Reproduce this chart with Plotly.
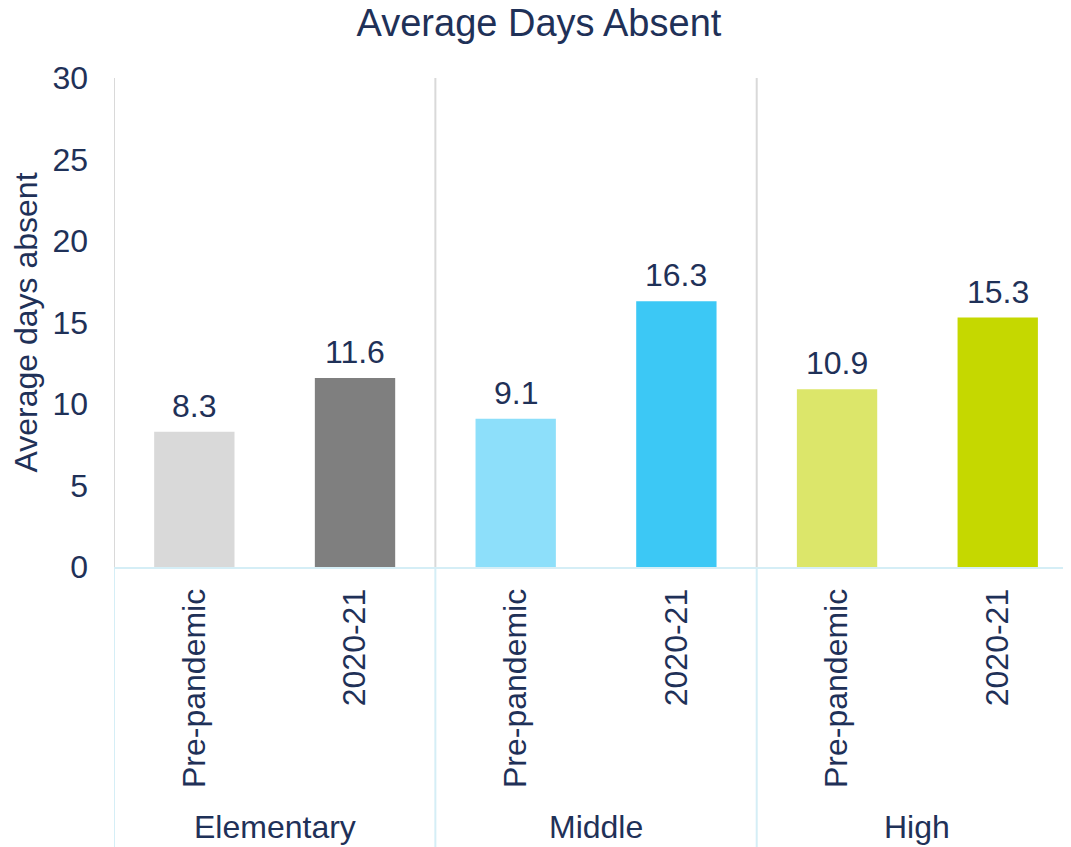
import plotly.graph_objects as go

groups = ["Elementary", "Middle", "High"]
periods = ["Pre-pandemic", "2020-21"]
values = [8.3, 11.6, 9.1, 16.3, 10.9, 15.3]
colors = ["#d9d9d9", "#7f7f7f", "#8ddffa", "#3cc8f5", "#dce66a", "#c5d800"]
y_ticks = [0, 5, 10, 15, 20, 25, 30]

TEXT = "#1f3158"
FONT = "Liberation Sans, Arial, sans-serif"

n = len(values)
xpos = list(range(n))
tick_text = [periods[i % 2] for i in range(n)]

fig = go.Figure()
fig.add_trace(go.Bar(
    x=xpos, y=values, width=0.5,
    marker=dict(color=colors, line=dict(width=0)),
    hoverinfo="skip",
))

shapes = []
for g in range(len(groups)):
    xb = g * 2 - 0.5
    shapes.append(dict(type="line", xref="x", yref="paper", x0=xb, x1=xb, y0=0, y1=1,
                       line=dict(color="#d9d9d9", width=2)))
    shapes.append(dict(type="line", xref="x", yref="paper", x0=xb, x1=xb, y0=0, y1=-0.6,
                       line=dict(color="#d5eef6", width=2)))

annotations = []
for g, name in enumerate(groups):
    annotations.append(dict(text=name, x=g * 2 + 0.5, xref="x", y=-0.532, yref="paper",
                            showarrow=False, xanchor="center", yanchor="middle",
                            font=dict(size=32, color=TEXT, family=FONT)))
for xi, v in zip(xpos, values):
    annotations.append(dict(text=f"{v:.1f}", x=xi, y=v, xref="x", yref="y",
                            showarrow=False, xanchor="center", yanchor="bottom", yshift=6,
                            font=dict(size=32, color=TEXT, family=FONT)))

fig.update_layout(
    width=1063, height=839,
    margin=dict(l=106, r=0, t=70, b=280),
    paper_bgcolor="white", plot_bgcolor="white",
    showlegend=False,
    title=dict(text="Average Days Absent", x=0.4995, xref="container", xanchor="center",
               y=0.982, yref="container", yanchor="middle",
               font=dict(size=38, color=TEXT, family=FONT)),
    font=dict(family=FONT, color=TEXT),
    shapes=shapes, annotations=annotations,
)
fig.update_xaxes(
    range=[-0.5, 5.456], tickmode="array", tickvals=xpos, ticktext=tick_text,
    tickangle=-90, tickfont=dict(size=32, color=TEXT, family=FONT),
    showline=True, linecolor="#d5eef6", linewidth=2, showgrid=False, zeroline=False,
    ticks="", ticklabelstandoff=7,
)
fig.update_yaxes(
    range=[0, 30], tickvals=y_ticks, tickfont=dict(size=32, color=TEXT, family=FONT),
    showgrid=False, zeroline=False, showline=False, ticks="",
    title=dict(text="Average days absent", font=dict(size=32, color=TEXT, family=FONT), standoff=6),
    ticklabelstandoff=25,
)

fig.write_html("out.html")
